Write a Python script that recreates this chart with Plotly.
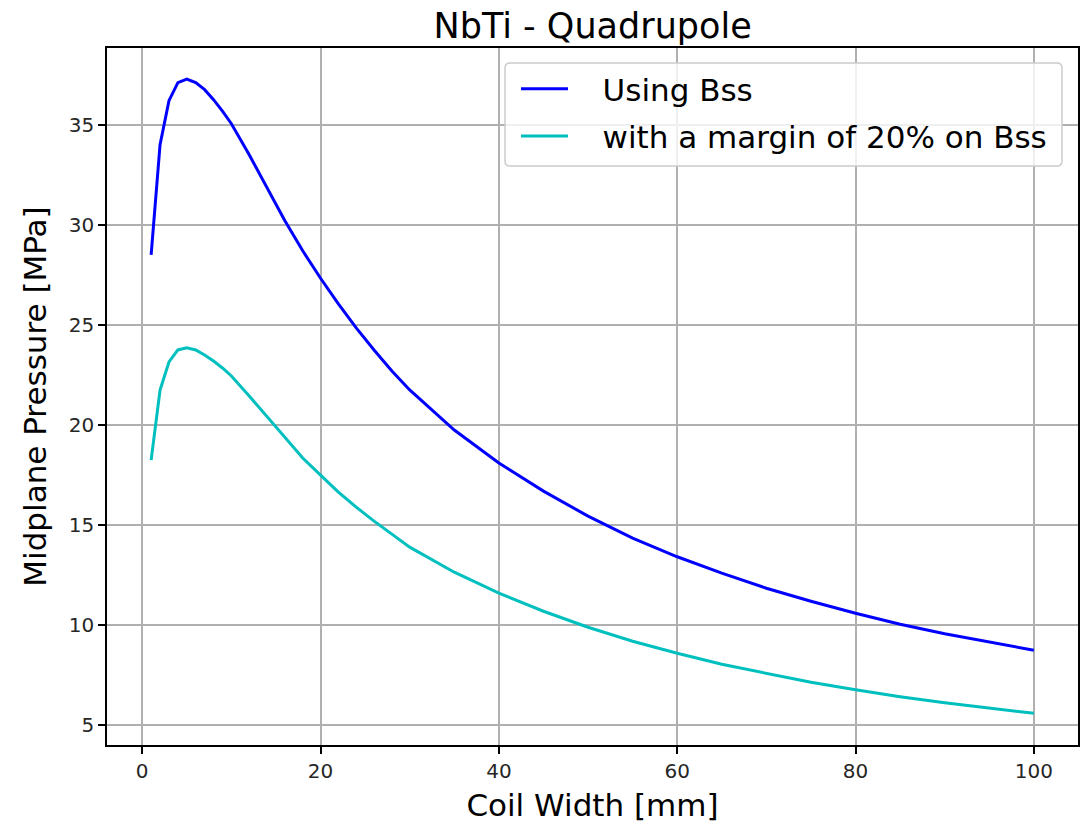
import plotly.graph_objects as go

coil_width = [1, 2, 3, 4, 5, 6, 7, 8, 9, 10, 12, 14, 16, 18, 20, 22, 24, 26, 28, 30,
              35, 40, 45, 50, 55, 60, 65, 70, 75, 80, 85, 90, 95, 100]
pressure_bss = [28.5, 34.0, 36.2, 37.1, 37.28, 37.1, 36.75, 36.25, 35.68, 35.05,
                33.5, 31.85, 30.2, 28.7, 27.33, 26.05, 24.85, 23.75, 22.7, 21.75,
                19.75, 18.1, 16.7, 15.45, 14.35, 13.42, 12.6, 11.85, 11.2, 10.6,
                10.05, 9.58, 9.15, 8.75]
pressure_margin = [18.25, 21.75, 23.15, 23.75, 23.86, 23.75, 23.5, 23.2, 22.85, 22.45,
                   21.45, 20.4, 19.35, 18.35, 17.5, 16.65, 15.9, 15.2, 14.55, 13.9,
                   12.65, 11.6, 10.7, 9.9, 9.2, 8.6, 8.05, 7.6, 7.15, 6.78,
                   6.43, 6.13, 5.86, 5.6]
x_ticks = [0, 20, 40, 60, 80, 100]
y_ticks = [5, 10, 15, 20, 25, 30, 35]

FONT = "DejaVu Sans"
PAD = "\u00a0\u00a0\u00a0"

W, H = 1088, 823
ML, MR, MT, MB = 107, 10, 48, 78
PW, PH = W - ML - MR, H - MT - MB


def px_x(p):
    return (p - ML) / PW


def px_y(p):
    return 1 - (p - MT) / PH


# rounded legend frame (pixel layout box -> paper coords)
bx0, by0, bx1, by1, r = 505, 63, 1062, 166, 5
rx, ry = r / PW, r / PH
X0, X1, Y0, Y1 = px_x(bx0), px_x(bx1), px_y(by1), px_y(by0)
frame_path = (f"M{X0 + rx},{Y1} L{X1 - rx},{Y1} Q{X1},{Y1} {X1},{Y1 - ry} "
              f"L{X1},{Y0 + ry} Q{X1},{Y0} {X1 - rx},{Y0} L{X0 + rx},{Y0} "
              f"Q{X0},{Y0} {X0},{Y0 + ry} L{X0},{Y1 - ry} Q{X0},{Y1} {X0 + rx},{Y1} Z")

fig = go.Figure()
fig.add_trace(go.Scatter(x=coil_width, y=pressure_bss, mode="lines",
                         name=PAD + "Using Bss", legendgroup="a",
                         line=dict(color="#0000ff", width=3)))
fig.add_trace(go.Scatter(x=coil_width, y=pressure_margin, mode="lines",
                         name=PAD + "with a margin of 20% on Bss", legendgroup="b",
                         line=dict(color="#00bfbf", width=3)))

axis_common = dict(showline=True, linecolor="black", linewidth=1.6, mirror=True,
                   showgrid=True, gridcolor="#b0b0b0", gridwidth=1.5,
                   ticks="outside", ticklen=7, tickwidth=1.6, tickcolor="black",
                   tickfont=dict(family=FONT, size=20, color="#262626"),
                   zeroline=False, automargin=False)

fig.update_layout(
    width=W, height=H,
    margin=dict(l=ML, r=MR, t=MT, b=MB),
    paper_bgcolor="white", plot_bgcolor="white",
    font=dict(family=FONT, color="black"),
    title=dict(text="NbTi - Quadrupole", x=0.5447, xanchor="center", y=0.969,
               yanchor="middle", font=dict(family=FONT, size=35, color="black")),
    xaxis=dict(range=[-3.95, 104.95], tickvals=x_ticks,
               title=dict(text="Coil Width [mm]", standoff=14,
                          font=dict(family=FONT, size=31, color="black")),
               **axis_common),
    yaxis=dict(range=[4.02, 38.83], tickvals=y_ticks,
               title=dict(text="Midplane Pressure [MPa]", standoff=13,
                          font=dict(family=FONT, size=31, color="black")),
               **axis_common),
    legend=dict(x=px_x(516), y=px_y(62), xanchor="left", yanchor="top",
                bgcolor="rgba(0,0,0,0)", borderwidth=0,
                font=dict(family=FONT, size=31, color="black"),
                itemwidth=47, traceorder="grouped", tracegroupgap=4),
    shapes=[dict(type="path", xref="paper", yref="paper", path=frame_path,
                 fillcolor="rgba(255,255,255,0.8)",
                 line=dict(color="#cccccc", width=1.5), layer="above")],
    showlegend=True,
)

fig.write_html("out.html")
